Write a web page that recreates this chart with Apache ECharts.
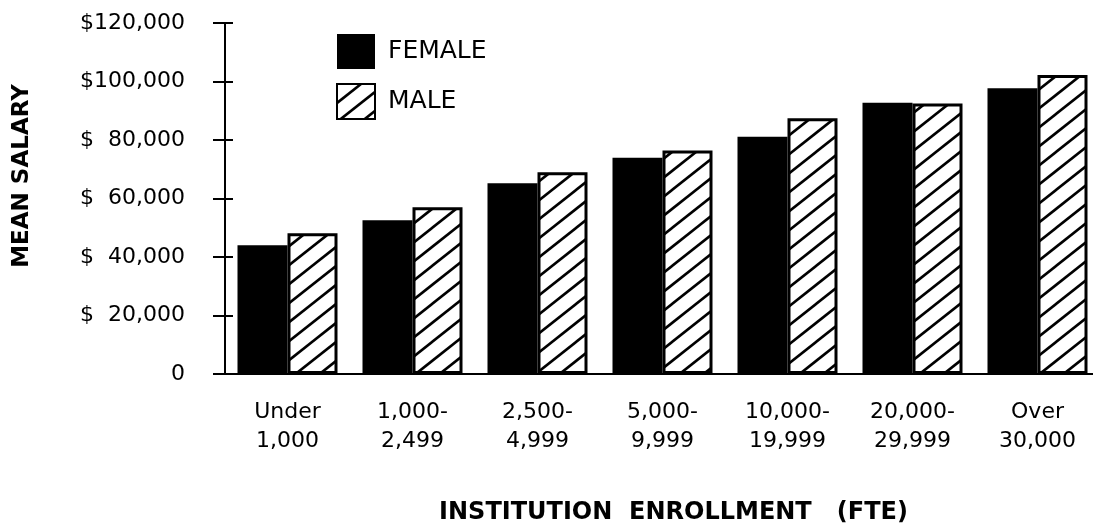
<!DOCTYPE html>
<html>
<head>
<meta charset="utf-8">
<script src="https://cdn.jsdelivr.net/npm/echarts@6/dist/echarts.min.js"></script>
<style>
  html, body { margin: 0; padding: 0; background: #fff; }
  #chart { width: 1093px; height: 526px; }
</style>
</head>
<body>
<div id="chart"></div>
<script>
var categories = ['Under\n1,000', '1,000-\n2,499', '2,500-\n4,999', '5,000-\n9,999',
  '10,000-\n19,999', '20,000-\n29,999', 'Over\n30,000'];
var femaleSalary = [44000, 52600, 65200, 73900, 81100, 92700, 97700];
var maleSalary = [48100, 57000, 69000, 76400, 87400, 92500, 102200];
var yTickLabels = ['0', '$  20,000', '$  40,000', '$  60,000', '$  80,000', '$100,000', '$120,000'];

var FONT = 'DejaVu Sans';

// diagonal "/" hatch for the male bars, 2x2 tiles so lines join up
function hatchPattern() {
  var w = 24, h = 19;
  var c = document.createElement('canvas');
  c.width = w * 2;
  c.height = h * 2;
  var ctx = c.getContext('2d');
  ctx.fillStyle = '#fff';
  ctx.fillRect(0, 0, c.width, c.height);
  ctx.strokeStyle = '#000';
  ctx.lineWidth = 2.6;
  for (var k = -2; k <= 4; k++) {
    ctx.beginPath();
    ctx.moveTo(-w, k * h + h);
    ctx.lineTo(3 * w, k * h - 3 * h);
    ctx.stroke();
  }
  return c;
}

var chart = echarts.init(document.getElementById('chart'));
var option = {
  animation: false,
  backgroundColor: '#fff',
  grid: { left: 225, top: 23, width: 875, height: 351, outerBoundsMode: 'none' },
  legend: {
    data: ['FEMALE', 'MALE'],
    orient: 'vertical',
    left: 336,
    top: 34,
    padding: 0,
    icon: 'rect',
    itemWidth: 38,
    itemHeight: 35,
    itemGap: 14,
    selectedMode: false,
    textStyle: { fontFamily: FONT, fontSize: 25, color: '#000', padding: [3, 0, 0, 8] }
  },
  xAxis: [{
    type: 'category',
    position: 'bottom',
    data: categories,
    axisLine: { lineStyle: { color: '#000', width: 2 } },
    axisTick: { length: 9, lineStyle: { color: '#000', width: 2 } },
    axisLabel: { color: '#000', fontFamily: FONT, fontSize: 22, lineHeight: 29, margin: 24 },
    name: 'INSTITUTION  ENROLLMENT   (FTE)',
    nameLocation: 'middle',
    nameGap: 127,
    nameTextStyle: { color: '#000', fontFamily: FONT, fontSize: 24, fontWeight: 'bold', padding: [0, 0, 0, 22] }
  }, {
    type: 'category',
    position: 'bottom',
    data: categories,
    axisLine: { show: false },
    axisTick: { inside: true, length: 5, lineStyle: { color: '#000', width: 2 } },
    axisLabel: { show: false }
  }],
  yAxis: [{
    type: 'value',
    position: 'left',
    min: 0,
    max: 120000,
    interval: 20000,
    axisLine: { show: true, lineStyle: { color: '#000', width: 2 } },
    axisTick: { show: true, length: 12, lineStyle: { color: '#000', width: 2 } },
    splitLine: { show: false },
    axisLabel: {
      color: '#000', fontFamily: FONT, fontSize: 22, margin: 40,
      formatter: function (v) { return yTickLabels[Math.round(v / 20000)]; }
    }
  }, {
    type: 'value',
    position: 'left',
    min: 0,
    max: 120000,
    interval: 20000,
    axisLine: { show: false },
    axisTick: { show: true, inside: true, length: 8, lineStyle: { color: '#000', width: 2 } },
    splitLine: { show: false },
    axisLabel: { show: false }
  }],
  graphic: [{
    type: 'text',
    x: 22,
    y: 176,
    rotation: Math.PI / 2,
    style: {
      text: 'MEAN SALARY',
      fontFamily: FONT,
      fontSize: 23,
      fontWeight: 'bold',
      fill: '#000',
      align: 'center',
      verticalAlign: 'middle'
    }
  }],
  series: [{
    name: 'FEMALE',
    type: 'bar',
    data: femaleSalary,
    barWidth: 50,
    barGap: '0%',
    itemStyle: { color: '#000' }
  }, {
    name: 'MALE',
    type: 'bar',
    data: maleSalary,
    barWidth: 50,
    itemStyle: {
      color: { image: hatchPattern(), repeat: 'repeat' },
      borderColor: '#000',
      borderWidth: 3
    }
  }]
};
chart.setOption(option);
</script>
</body>
</html>
